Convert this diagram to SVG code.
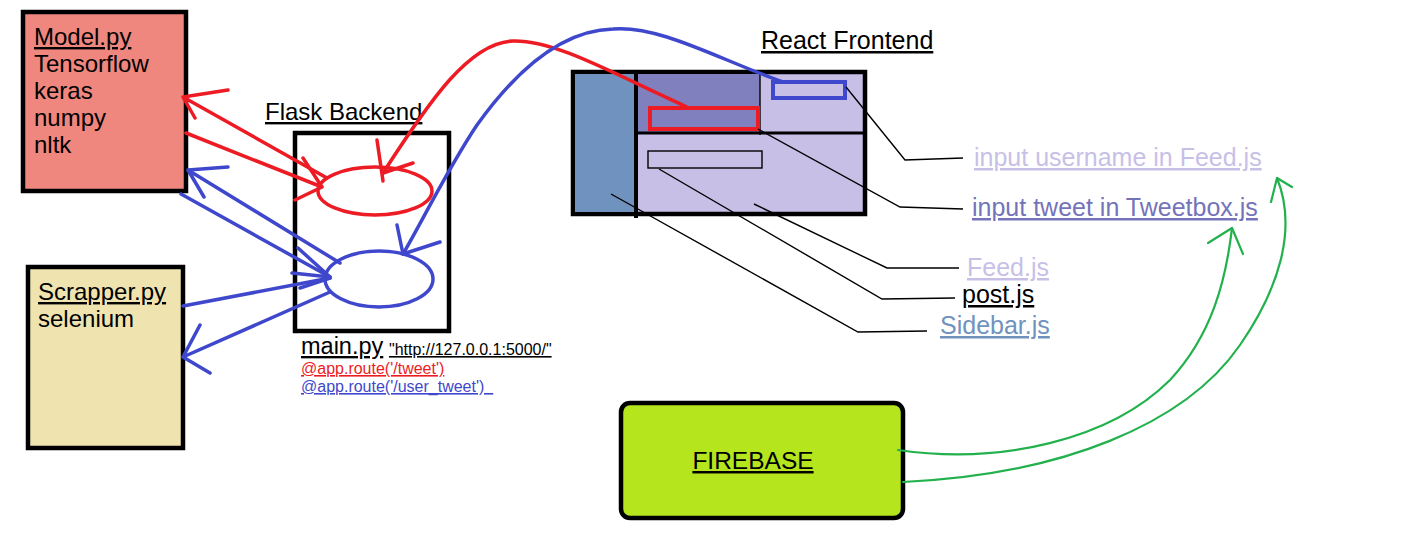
<svg xmlns="http://www.w3.org/2000/svg" width="1405" height="544" viewBox="0 0 1405 544">
<style>
text{font-family:"Liberation Sans",Arial,sans-serif;}
.u{text-decoration:underline;}
.box{stroke:#000;stroke-width:4.5;}
.red{stroke:#ED1C24;stroke-width:3.5;fill:none;stroke-linecap:round;stroke-linejoin:round;}
.blue{stroke:#3F48CC;stroke-width:3.5;fill:none;stroke-linecap:round;stroke-linejoin:round;}
.green{stroke:#22B14C;stroke-width:2.2;fill:none;stroke-linecap:round;stroke-linejoin:round;}
.lead{stroke:#000;stroke-width:1.4;fill:none;}
.big{font-size:24px;}
.lbl{font-size:25px;}
</style>
<rect width="1405" height="544" fill="#fff"/>

<g id="model">
<rect x="23" y="12" width="163" height="179" fill="#F0877F" class="box"/>
<text x="34" y="45" class="big u">Model.py</text>
<text x="34" y="72" class="big">Tensorflow</text>
<text x="34" y="99" class="big">keras</text>
<text x="34" y="126" class="big">numpy</text>
<text x="34" y="153" class="big">nltk</text>
</g>

<g id="scrapper">
<rect x="28" y="267" width="155" height="181" fill="#EFE4B0" class="box"/>
<text x="38" y="300" class="big u">Scrapper.py</text>
<text x="38" y="327" class="big">selenium</text>
</g>

<g id="flask">
<text x="265" y="120" class="big u">Flask Backend</text>
<rect x="295" y="133" width="154" height="198" fill="#fff" class="box"/>
<ellipse cx="375" cy="191" rx="57" ry="24" class="red"/>
<ellipse cx="379" cy="279" rx="54" ry="28" class="blue"/>
<text x="301" y="354" font-size="23.5" class="u">main.py</text>
<text x="389" y="355" font-size="16" class="u">"http://127.0.0.1:5000/"</text>
<text x="301" y="374" font-size="16" fill="#ED1C24" class="u">@app.route('/tweet')</text>
<text x="301" y="392" font-size="16" fill="#3F48CC" class="u" xml:space="preserve">@app.route('/user_tweet')&#160;&#160;</text>
</g>

<g id="react">
<text x="761" y="49" font-size="25" class="u">React Frontend</text>
<rect x="573" y="72" width="292" height="142" fill="#C8BFE7" class="box"/>
<rect x="575" y="74" width="61" height="138" fill="#7092BE"/>
<rect x="636" y="74" width="124" height="59" fill="#8080BF"/>
<line x1="636" y1="70" x2="636" y2="218" stroke="#000" stroke-width="4"/>
<line x1="760" y1="70" x2="760" y2="135" stroke="#000" stroke-width="1.4"/>
<line x1="636" y1="133" x2="865" y2="133" stroke="#000" stroke-width="3"/>
<rect x="650" y="108" width="108" height="21" fill="none" stroke="#ED1C24" stroke-width="4"/>
<rect x="773" y="82" width="72" height="16" fill="none" stroke="#3F48CC" stroke-width="4"/>
<rect x="648" y="151" width="114" height="17" fill="none" stroke="#000" stroke-width="1.4"/>
</g>

<g id="labels">
<text x="974" y="166" class="lbl u" fill="#C8BFE7">input username in Feed.js</text>
<text x="972" y="216" class="lbl u" fill="#7473BA">input tweet in Tweetbox.js</text>
<text x="967" y="276" class="lbl u" fill="#C8BFE7">Feed.js</text>
<text x="962" y="303" class="lbl u" fill="#000">post.js</text>
<text x="940" y="334" class="lbl u" fill="#7092BE">Sidebar.js</text>
</g>

<g id="firebase">
<rect x="621" y="403" width="282" height="115" rx="9" fill="#B5E61D" class="box"/>
<text x="753" y="469" font-size="24.5" text-anchor="middle" class="u">FIREBASE</text>
</g>

<g id="connectors">
<!-- leader lines -->
<polyline class="lead" points="846,87 905,160 963,158"/>
<polyline class="lead" points="758,129 900,207 963,209"/>
<polyline class="lead" points="754,204 887,268 959,268"/>
<polyline class="lead" points="659,169 882,299 955,298"/>
<polyline class="lead" points="611,194 858,332 927,331"/>
<!-- red -->
<path class="red" d="M327,178 L183,97 M228,90 L183,97 L195,118"/>
<path class="red" d="M186,133 L322,187 M303,158 L322,187 L295,200"/>
<path class="red" d="M687,107 C610,72 555,40 513,41 C470,42 430,100 383,173"/>
<path class="red" d="M377,140 L383,181 M413,163 L383,173"/>
<!-- blue -->
<path class="blue" d="M783,82 C720,60 660,25 613,29 C565,30 520,65 477,125 C450,165 420,225 403,254"/>
<path class="blue" d="M397,225 L403,254 L440,242"/>
<path class="blue" d="M340,263 L188,170 M228,167 L188,170 L204,197"/>
<path class="blue" d="M181,194 L330,277"/>
<path class="blue" d="M183,306 L330,278"/>
<path class="blue" d="M298,248 L330,277 L292,273 M300,288 L330,278"/>
<path class="blue" d="M330,292 L183,357 M200,325 L183,357 L210,373"/>
<!-- green -->
<path class="green" d="M898,450 C1000,465 1110,440 1170,380 C1212,335 1226,280 1232,228"/>
<path class="green" d="M1208,243 L1232,228 L1243,254"/>
<path class="green" d="M903,482 C1060,475 1185,425 1240,345 C1278,290 1298,230 1277,178"/>
<path class="green" d="M1271,202 L1277,178 L1292,187"/>
</g>
</svg>
